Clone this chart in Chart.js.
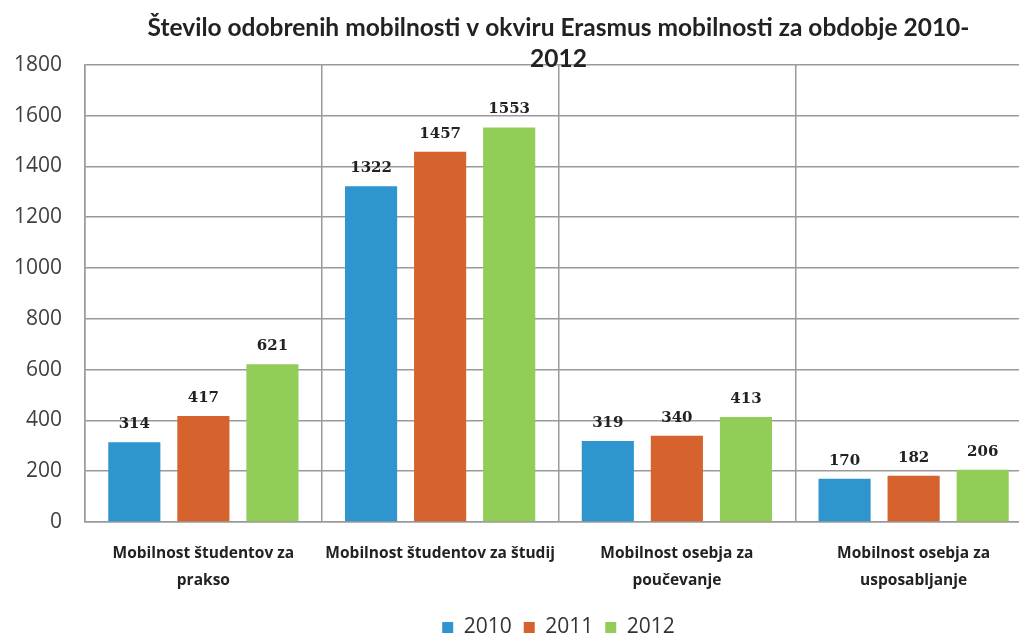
<!DOCTYPE html>
<html>
<head>
<meta charset="utf-8">
<script src="https://cdn.jsdelivr.net/npm/chart.js@4/dist/chart.umd.min.js"></script>
<style>
    html, body { margin: 0; padding: 0; background: #fff; overflow: hidden; }
    #wrap { width: 1096px; height: 638px; }
</style>
</head>
<body>
<div id="wrap"><canvas id="chart"></canvas></div>
<script>
// Chart data
const categories = [
    ['Mobilnost študentov za', 'prakso'],
    ['Mobilnost študentov za študij'],
    ['Mobilnost osebja za', 'poučevanje'],
    ['Mobilnost osebja za', 'usposabljanje']
];
const years = ['2010', '2011', '2012'];
const values2010 = [314, 1322, 319, 170];
const values2011 = [417, 1457, 340, 182];
const values2012 = [621, 1553, 413, 206];
const yMax = 1800;
const yStep = 200;

const colors = ['#2e95cf', '#d6622e', '#92cd58'];
const gridColor = '#9a9a9a';

// Draws the value above each bar
const valueLabels = {
    id: 'valueLabels',
    afterDatasetsDraw(chart) {
        const ctx = chart.ctx;
        ctx.save();
        ctx.font = 'bold 15px "DejaVu Serif"';
        ctx.fillStyle = '#222';
        ctx.textAlign = 'center';
        ctx.textBaseline = 'alphabetic';
        chart.data.datasets.forEach((ds, i) => {
            chart.getDatasetMeta(i).data.forEach((bar, j) => {
                ctx.fillText(String(ds.data[j]), bar.x, bar.y - 14);
            });
        });
        ctx.restore();
    }
};

const series = [values2010, values2011, values2012];

new Chart(document.getElementById('chart'), {
    type: 'bar',
    data: {
        labels: categories,
        datasets: years.map((y, i) => ({
            label: y,
            data: series[i],
            backgroundColor: colors[i],
            borderWidth: 0,
            categoryPercentage: 0.875,
            barPercentage: 0.755
        }))
    },
    options: {
        responsive: true,
        maintainAspectRatio: false,
        animation: false,
        layout: {
            padding: { top: 13, left: 14, right: 64, bottom: -10 }
        },
        plugins: {
            title: {
                display: true,
                fullSize: false,
                text: ['Število odobrenih mobilnosti v okviru Erasmus mobilnosti za obdobje 2010-', '2012'],
                color: '#222',
                font: { family: 'Lato', size: 24.5, weight: 'bold', lineHeight: 1.26 },
                padding: { top: 0, bottom: -10 }
            },
            legend: {
                position: 'bottom',
                fullSize: false,
                labels: {
                    color: '#333',
                    font: { family: 'Open Sans', size: 21 },
                    boxWidth: 11,
                    boxHeight: 11,
                    padding: 12
                }
            },
            tooltip: { enabled: false }
        },
        scales: {
            x: {
                grid: { color: gridColor, lineWidth: 1.5, drawTicks: false, offset: true },
                border: { color: gridColor, width: 1.5 },
                ticks: {
                    color: '#222',
                    font: { family: 'Open Sans', size: 15.5, weight: 'bold', lineHeight: 1.75 },
                    padding: 18,
                    maxRotation: 0,
                    autoSkip: false
                },
                afterFit(scale) {
                    scale.height = 83;
                    // long category labels should not push the plot area inwards
                    scale.paddingLeft = 0;
                    scale.paddingRight = 0;
                }
            },
            y: {
                min: 0,
                max: yMax,
                grid: { color: gridColor, lineWidth: 1.5, drawTicks: false },
                border: { color: gridColor, width: 1.5 },
                ticks: {
                    stepSize: yStep,
                    color: '#404040',
                    font: { family: 'Open Sans', size: 21 },
                    padding: 23,
                    callback: (v) => String(v)
                },
                afterFit(scale) { scale.width = 71; }
            }
        }
    },
    plugins: [valueLabels]
});
</script>
</body>
</html>
